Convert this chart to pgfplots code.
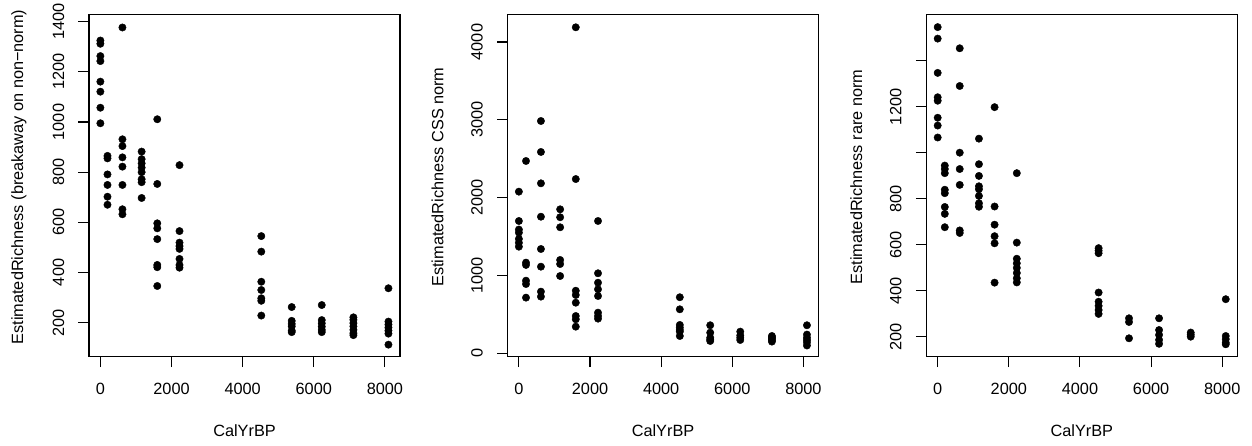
\documentclass[border=0pt]{standalone}
\usepackage{fontspec}
\setmainfont{Liberation Sans}
\usepackage{pgfplots}
\pgfplotsset{compat=1.18}
\pgfplotsset{rstyle/.style={
  scale only axis, width=311bp, height=342bp,
  xmin=-320, xmax=8425,
  xtick={0,2000,4000,6000,8000},
  tick align=outside, xtick pos=bottom, ytick pos=left,
  major tick length=10.5bp,
  axis line style={line width=1.1bp},
  every tick/.style={black, line width=1.1bp},
  /pgf/number format/assume math mode=true,
  /pgf/number format/1000 sep={},
  tick label style={font=\fontsize{16.3bp}{19.6bp}\selectfont},
  label style={font=\fontsize{16.3bp}{19.6bp}\selectfont},
  xticklabel style={anchor=center, yshift=-22bp},
  yticklabel style={xshift=-20bp, rotate=90, anchor=center},
  xlabel={CalYrBP},
  xlabel style={at={(axis description cs:0.5,-0.2164)}, anchor=center},
  ylabel style={at={(axis description cs:-0.2251,0.5254)}, anchor=center},
  anchor=south west,
}, pts/.style={only marks, mark=*, mark size=3.7bp, color=black, mark options={fill=black, draw=black}}}
\begin{document}
\begin{tikzpicture}
\useasboundingbox (0,0) rectangle (1252bp,446bp);
% Panel 1
\begin{axis}[rstyle, at={(89bp,89.3bp)},
  ymin=64, ymax=1428, ytick={200,400,600,800,1000,1200,1400},
  ylabel={EstimatedRichness (breakaway on non\textminus norm)}]
\addplot[pts] coordinates {
(0,1325) (0,1312) (0,1263) (0,1243) (0,1161) (0,1121) (0,1057) (0,995)
(200,865) (200,855) (200,791) (200,749) (200,702) (200,670)
(620,1377) (620,931) (620,904) (620,859) (620,822) (620,749) (620,652) (620,632)
(1160,882) (1160,852) (1160,835) (1160,818) (1160,800) (1160,772) (1160,760) (1160,697)
(1600,1011) (1600,753) (1600,596) (1600,576) (1600,533) (1600,430) (1600,421) (1600,346)
(2225,828) (2225,565) (2225,519) (2225,505) (2225,494) (2225,454) (2225,430) (2225,419)
(4525,545) (4525,483) (4525,363) (4525,330) (4525,297) (4525,287) (4525,228)
(5380,262) (5380,207) (5380,195) (5380,185) (5380,168) (5380,162)
(6225,270) (6225,210) (6225,197) (6225,184) (6225,171) (6225,162)
(7115,221) (7115,211) (7115,198) (7115,185) (7115,171) (7115,158) (7115,150)
(8100,337) (8100,204) (8100,192) (8100,180) (8100,168) (8100,156) (8100,112)
};
\end{axis}
% Panel 2
\begin{axis}[rstyle, at={(507.5bp,89.3bp)},
  ymin=-44, ymax=4351, ytick={0,1000,2000,3000,4000},
  ylabel={EstimatedRichness CSS norm}]
\addplot[pts] coordinates {
(0,2077) (0,1700) (0,1590) (0,1550) (0,1470) (0,1420) (0,1370)
(200,2471) (200,1165) (200,1135) (200,933) (200,890) (200,715)
(620,2985) (620,2587) (620,2184) (620,1755) (620,1340) (620,1113) (620,792) (620,728)
(1160,1850) (1160,1748) (1160,1619) (1160,1199) (1160,1147) (1160,993)
(1600,4189) (1600,2239) (1600,804) (1600,749) (1600,650) (1600,479) (1600,437) (1600,342)
(2225,1700) (2225,1028) (2225,907) (2225,822) (2225,736) (2225,522) (2225,479) (2225,445)
(4525,720) (4525,565) (4525,364) (4525,330) (4525,300) (4525,278) (4525,222)
(5380,360) (5380,265) (5380,200) (5380,175) (5380,158)
(6225,278) (6225,230) (6225,200) (6225,171)
(7115,222) (7115,205) (7115,190) (7115,170) (7115,150)
(8100,360) (8100,240) (8100,200) (8100,170) (8100,140) (8100,100)
};
\end{axis}
% Panel 3
\begin{axis}[rstyle, at={(926.3bp,89.3bp)},
  ymin=114, ymax=1601, ytick={200,400,600,800,1000,1200,1400},
  yticklabels={200,400,600,800,{},1200,{}},
  ylabel={EstimatedRichness rare norm}]
\addplot[pts] coordinates {
(0,1547) (0,1497) (0,1348) (0,1242) (0,1227) (0,1153) (0,1119) (0,1067)
(200,945) (200,930) (200,912) (200,840) (200,825) (200,765) (200,735) (200,677)
(620,1455) (620,1291) (620,1001) (620,930) (620,861) (620,663) (620,652)
(1160,1062) (1160,951) (1160,900) (1160,855) (1160,842) (1160,813) (1160,781) (1160,766)
(1600,1199) (1600,767) (1600,688) (1600,638) (1600,607) (1600,436)
(2225,912) (2225,610) (2225,540) (2225,520) (2225,500) (2225,478) (2225,455) (2225,437)
(4525,586) (4525,575) (4525,564) (4525,393) (4525,353) (4525,335) (4525,317) (4525,300)
(5380,281) (5380,265) (5380,194)
(6225,281) (6225,230) (6225,209) (6225,187) (6225,170)
(7115,219) (7115,210) (7115,201)
(8100,364) (8100,204) (8100,190) (8100,175) (8100,168)
};
\end{axis}
\end{tikzpicture}
\end{document}
